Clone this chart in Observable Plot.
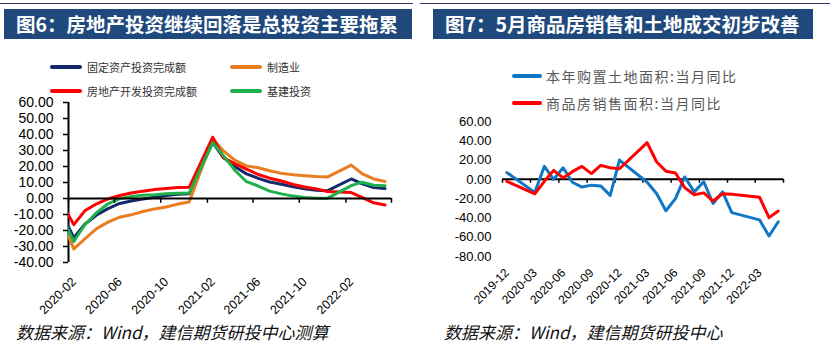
<!DOCTYPE html>
<html><head><meta charset="utf-8">
<script src="https://cdn.jsdelivr.net/npm/d3@7"></script>
<script src="https://cdn.jsdelivr.net/npm/@observablehq/plot@0.6"></script>
<style>
body{margin:0;background:#fff;}
#root{position:relative;width:839px;height:352px;overflow:hidden;font-family:"Noto Sans CJK SC",sans-serif;background:#fff;}
.topline{position:absolute;top:3px;height:1px;background:#2b3a55;}
.bar{position:absolute;top:9px;height:30px;background:#1F497D;color:#fff;font-weight:700;font-size:19.5px;line-height:30px;white-space:nowrap;box-sizing:border-box;}
.leg{position:absolute;display:flex;align-items:center;white-space:nowrap;height:16px;}
.sw{display:inline-block;}
.cap{position:absolute;top:321px;font-size:17px;line-height:22px;font-style:italic;color:#111;white-space:nowrap;}
.panel{position:absolute;}
</style></head>
<body><div id="root"></div>
<script>
// ---------- Left chart data (cumulative YoY, %) ----------
const leftMonths = ["2019-12","2020-02","2020-03","2020-04","2020-05","2020-06","2020-07","2020-08","2020-09","2020-10","2020-11","2020-12",
  "2021-02","2021-03","2021-04","2021-05","2021-06","2021-07","2021-08","2021-09","2021-10","2021-11","2021-12",
  "2022-02","2022-03","2022-04","2022-05"];
const faiValues   = [5.4,-24.5,-16.1,-10.3,-6.3,-3.1,-1.6,-0.3,0.8,1.8,2.6,2.9, 35.0,25.6,19.9,15.4,12.6,10.3,8.9,7.3,6.1,5.2,4.9, 12.2,9.3,6.8,6.2];
const mfgValues   = [3.1,-31.5,-25.2,-18.8,-14.8,-11.7,-10.2,-8.1,-6.5,-5.3,-3.5,-2.2, 37.3,29.8,23.8,20.4,19.2,17.3,15.7,14.8,14.2,13.7,13.5, 20.9,15.6,12.2,10.6];
const reValues    = [9.9,-16.3,-7.7,-3.3,-0.3,1.9,3.4,4.6,5.6,6.3,6.8,7.0, 38.3,25.6,21.6,18.3,15.0,12.7,10.9,8.8,7.2,6.0,4.4, 3.7,0.7,-2.7,-4.0];
const infraValues = [3.8,-26.9,-16.4,-8.8,-3.3,-0.1,1.2,2.0,2.4,3.0,3.3,3.4, 35.0,26.8,17.5,10.5,7.8,4.6,2.9,1.5,0.7,0.2,0.2, 8.0,10.2,8.3,7.9];
const leftSeries = ["固定资产投资完成额","制造业","房地产开发投资完成额","基建投资"];
const leftColors = ["#14296B","#E97E1F","#FF0000","#1EB04B"];
const leftTickLabels = ["2020-02","2020-06","2020-10","2021-02","2021-06","2021-10","2022-02"];
const leftTickMarks  = ["2020-02","2020-06","2020-10","2021-02","2021-06","2021-10","2022-02","2022-06"];
const leftYTicks = [-40,-30,-20,-10,0,10,20,30,40,50,60];

// ---------- Right chart data (monthly YoY, %) ----------
const rightMonths = ["2019-12","2020-03","2020-04","2020-05","2020-06","2020-07","2020-08","2020-09","2020-10","2020-11","2020-12",
  "2021-03","2021-04","2021-05","2021-06","2021-07","2021-08","2021-09","2021-10","2021-11","2021-12",
  "2022-03","2022-04","2022-05"];
const landValues  = [7,-13.5,13.5,0,12,-3,-8,-6,-6.8,-16.6,20, -3,-15,-32.5,-20,2.5,-13,-2.5,-25,-13,-34.5, -42,-58.7,-44];
const salesValues = [-2,-15,-2,9.3,1.5,8,13.5,6,14.5,12,11, 38,18,8.5,6.6,-8.6,-15.9,-14,-22.5,-14.9,-15.5, -18.5,-39.7,-32.8];
const rightSeries = ["本年购置土地面积:当月同比","商品房销售面积:当月同比"];
const rightColors = ["#1177C5","#FF0000"];
const rightTickLabels = ["2019-12","2020-03","2020-06","2020-09","2020-12","2021-03","2021-06","2021-09","2021-12","2022-03"];
const rightTickMarks  = ["2019-12","2020-03","2020-06","2020-09","2020-12","2021-03","2021-06","2021-09","2021-12","2022-03","2022-06"];
const rightYTicks = [-80,-60,-40,-20,0,20,40,60];

// ---------- helpers ----------
const ym = s => s.split("-").map(Number);
const mid = s => { const [y,m] = ym(s); return new Date(Date.UTC(y, m-1, 15)); };
const start = s => { const [y,m] = ym(s); return new Date(Date.UTC(y, m-1, 1)); };

const root = document.getElementById("root");
function el(tag, cls, style, html){ const e=document.createElement(tag); if(cls) e.className=cls; Object.assign(e.style, style||{}); if(html!=null) e.innerHTML=html; root.appendChild(e); return e; }

// titles
el("div","topline",{left:"0px",width:"413px"});
el("div","bar",{left:"4px",width:"408px",paddingLeft:"12px"},"图6：房地产投资继续回落是总投资主要拖累");
el("div","topline",{left:"420px",width:"410px"});
el("div","bar",{left:"433px",width:"380px",paddingLeft:"12px"},"图7：5月商品房销售和土地成交初步改善");

// left legend
const leftLegPos = [[50,59],[230,59],[50,83],[230,83]];
leftSeries.forEach((s,i)=>{
  const d = el("div","leg",{left:leftLegPos[i][0]+"px",top:leftLegPos[i][1]+"px",fontSize:"11px",color:"#333"});
  d.innerHTML = `<span class="sw" style="width:32px;height:4px;background:${leftColors[i]};margin-right:5px;border-radius:2px"></span><span>${s}</span>`;
});
// right legend
const rightLegPos = [[512,68],[512,95]];
rightSeries.forEach((s,i)=>{
  const d = el("div","leg",{left:rightLegPos[i][0]+"px",top:rightLegPos[i][1]+"px",fontSize:"14px",letterSpacing:"1.5px",color:"#595959"});
  d.innerHTML = `<span class="sw" style="width:30px;height:4px;background:${rightColors[i]};margin-right:4px;border-radius:2px"></span><span>${s}</span>`;
});

// captions
el("div","cap",{left:"16px"},"数据来源：Wind，建信期货研投中心测算");
el("div","cap",{left:"444px"},"数据来源：Wind，建信期货研投中心");

// ---------- left plot ----------
const leftValues = [faiValues, mfgValues, reValues, infraValues];
const leftData = [];
leftSeries.forEach((s,i)=> leftMonths.forEach((m,j)=> leftData.push({series:s, date:mid(m), value:leftValues[i][j]})));

const axisFont = "'Liberation Sans', Arial, sans-serif";
const leftPlot = Plot.plot({
  width: 420, height: 230,
  marginLeft: 68, marginRight: 29, marginTop: 12, marginBottom: 58,
  style: {overflow:"visible", fontFamily: axisFont, background:"transparent", color:"#000"},
  x: {type:"utc", domain:[start("2020-02"), start("2022-06")], axis:null},
  y: {domain:[-40,60], axis:null},
  color: {domain: leftSeries, range: leftColors},
  marks: [
    Plot.axisY(leftYTicks, {anchor:"left", label:null, tickSize:5, tickPadding:10, tickFormat:d=>d.toFixed(2), fontSize:14, stroke:"#000", strokeWidth:1.5, fill:"#000"}),
    Plot.ruleX([start("2020-02")], {stroke:"#000", strokeWidth:2}),
    Plot.line(leftData, {x:"date", y:"value", z:"series", stroke:"series", strokeWidth:3, clip:true}),
    Plot.ruleY([0], {stroke:"#000", strokeWidth:2}),
    Plot.ruleX(leftTickMarks.map(start), {x:d=>d, y1:0, y2:-3, stroke:"#000", strokeWidth:1.5}),
    Plot.text(leftTickLabels, {x:d=>mid(d), text:d=>d, frameAnchor:"bottom", rotate:-45, textAnchor:"end", dx:3, dy:20, fontSize:12.5, fill:"#000"})
  ]
});
const lp = document.createElement("div"); lp.className="panel"; lp.style.left="0px"; lp.style.top="90px"; lp.appendChild(leftPlot); root.appendChild(lp);

// ---------- right plot ----------
const rightValues = [landValues, salesValues];
const rightData = [];
rightSeries.forEach((s,i)=> rightMonths.forEach((m,j)=> rightData.push({series:s, date:mid(m), value:rightValues[i][j]})));

const rightPlot = Plot.plot({
  width: 419, height: 200,
  marginLeft: 82, marginRight: 56, marginTop: 11, marginBottom: 54,
  style: {overflow:"visible", fontFamily: axisFont, background:"transparent", color:"#000"},
  x: {type:"utc", domain:[start("2019-12"), start("2022-06")], axis:null},
  y: {domain:[-80,60], axis:null},
  color: {domain: rightSeries, range: rightColors},
  marks: [
    Plot.axisY(rightYTicks, {anchor:"left", label:null, tickSize:0, tickPadding:11, tickFormat:d=>d.toFixed(2), fontSize:13, fill:"#000"}),
    Plot.ruleY([0], {stroke:"#000", strokeWidth:2}),
    Plot.ruleX(rightTickMarks.map(start), {x:d=>d, y1:0, y2:-4, stroke:"#000", strokeWidth:1.5}),
    Plot.line(rightData, {x:"date", y:"value", z:"series", stroke:"series", strokeWidth:3}),
    Plot.text(rightTickLabels, {x:d=>mid(d), text:d=>d, frameAnchor:"bottom", rotate:-45, textAnchor:"end", dx:3, dy:17, fontSize:12, fill:"#000"})
  ]
});
const rp = document.createElement("div"); rp.className="panel"; rp.style.left="420px"; rp.style.top="110px"; rp.appendChild(rightPlot); root.appendChild(rp);
</script>
</body></html>
